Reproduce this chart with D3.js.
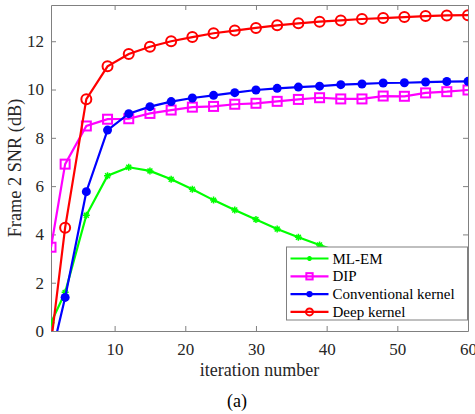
<!DOCTYPE html>
<html>
<head>
<meta charset="utf-8">
<script src="https://cdn.jsdelivr.net/npm/d3@7"></script>
<style>
  body { margin: 0; background: #fff; }
  svg text { font-family: "Liberation Serif", "Times New Roman", "DejaVu Serif", serif !important; }
</style>
</head>
<body>
<script>
const iterations = [1, 3, 6, 9, 12, 15, 18, 21, 24, 27, 30, 33, 36, 39, 42, 45, 48, 51, 54, 57, 60];

const mlem = [0.34, 1.6, 4.79, 6.43, 6.78, 6.63, 6.28, 5.87, 5.42, 5.01, 4.62, 4.22, 3.88, 3.56,
  3.26, 2.98, 2.72, 2.48, 2.27, 2.09, 1.93];
const dip = [3.47, 6.91, 8.49, 8.77, 8.79, 9.01, 9.15, 9.27, 9.3, 9.39, 9.43, 9.51, 9.59, 9.66,
  9.61, 9.61, 9.73, 9.72, 9.86, 9.91, 9.98];
const convKernel = [-1.1, 1.39, 5.77, 8.32, 9.0, 9.29, 9.5, 9.65, 9.76, 9.87, 9.98, 10.05, 10.1,
  10.14, 10.2, 10.23, 10.27, 10.28, 10.31, 10.33, 10.34];
const deepKernel = [-0.5, 4.28, 9.6, 10.96, 11.47, 11.77, 12.0, 12.17, 12.33, 12.44, 12.55, 12.66,
  12.74, 12.81, 12.86, 12.92, 12.96, 13.0, 13.04, 13.07, 13.08];

const xTicks = [10, 20, 30, 40, 50, 60];
const yTicks = [0, 2, 4, 6, 8, 10, 12];

const series = [
  { name: "ML-EM", values: mlem, color: "#00ff00", marker: "star" },
  { name: "DIP", values: dip, color: "#ff00ff", marker: "square" },
  { name: "Conventional kernel", values: convKernel, color: "#0000ff", marker: "dot" },
  { name: "Deep kernel", values: deepKernel, color: "#ff0000", marker: "circle" },
];

const width = 475, height = 414;
const margin = { top: 5, right: 7, bottom: 83, left: 51 };
const serif = '"Liberation Serif", "Times New Roman", "DejaVu Serif", serif';

const svg = d3.select("body").append("svg")
  .attr("width", width)
  .attr("height", height)
  .attr("font-family", serif);

const x = d3.scaleLinear().domain([1, 60]).range([margin.left, width - margin.right]);
const y = d3.scaleLinear().domain([0, 13.5]).range([height - margin.bottom, margin.top]);

svg.append("clipPath").attr("id", "plot")
  .append("rect")
  .attr("x", margin.left).attr("y", margin.top)
  .attr("width", x.range()[1] - margin.left)
  .attr("height", y.range()[0] - margin.top);

// axes, ticks pointing inward, box all round
const axisColor = "#808080";
const tickLen = 5;

function styleAxis(g) {
  g.attr("font-family", serif);
  g.selectAll("path").attr("stroke", axisColor);
  g.selectAll("line").attr("stroke", axisColor);
  g.selectAll("text").attr("fill", "#262626").attr("font-size", 17);
}

svg.append("g")
  .attr("transform", `translate(0,${y(0)})`)
  .call(d3.axisBottom(x).tickValues(xTicks).tickSize(-tickLen).tickSizeOuter(0).tickPadding(12))
  .call(styleAxis);

svg.append("g")
  .attr("transform", `translate(0,${margin.top})`)
  .call(d3.axisTop(x).tickValues(xTicks).tickSize(-tickLen).tickSizeOuter(0).tickFormat(""))
  .call(styleAxis);

svg.append("g")
  .attr("transform", `translate(${margin.left},0)`)
  .call(d3.axisLeft(y).tickValues(yTicks).tickSize(-tickLen).tickSizeOuter(0).tickPadding(7))
  .call(styleAxis);

svg.append("g")
  .attr("transform", `translate(${x(60)},0)`)
  .call(d3.axisRight(y).tickValues(yTicks).tickSize(-tickLen).tickSizeOuter(0).tickFormat(""))
  .call(styleAxis);

svg.selectAll(".domain").attr("stroke-width", 1);

// axis labels
svg.append("text")
  .attr("x", (x(1) + x(60)) / 2)
  .attr("y", 376)
  .attr("text-anchor", "middle")
  .attr("font-size", 18)
  .attr("fill", "#262626")
  .text("iteration number");

svg.append("text")
  .attr("transform", `translate(21,${(y(0) + y(13.5)) / 2}) rotate(-90)`)
  .attr("text-anchor", "middle")
  .attr("font-size", 18.3)
  .attr("fill", "#262626")
  .text("Frame 2 SNR (dB)");

svg.append("text")
  .attr("x", 237)
  .attr("y", 407)
  .attr("text-anchor", "middle")
  .attr("font-size", 18)
  .attr("fill", "#000")
  .text("(a)");

// markers
function drawMarker(g, type, color, s) {
  if (type === "star") {
    const r = 3.5 * s;
    g.append("path")
      .attr("d", `M${-r},0H${r}M0,${-r}V${r}M${-r * 0.7},${-r * 0.7}L${r * 0.7},${r * 0.7}M${-r * 0.7},${r * 0.7}L${r * 0.7},${-r * 0.7}`)
      .attr("stroke", color).attr("stroke-width", 1.5).attr("fill", "none");
  } else if (type === "square") {
    const h = 4.5 * s;
    g.append("rect")
      .attr("x", -h).attr("y", -h).attr("width", 2 * h).attr("height", 2 * h)
      .attr("stroke", color).attr("stroke-width", 2).attr("fill", "none");
  } else if (type === "dot") {
    g.append("circle").attr("r", 4.5 * s).attr("fill", color);
  } else {
    g.append("circle").attr("r", 5 * s)
      .attr("stroke", color).attr("stroke-width", 2).attr("fill", "none");
  }
}

const line = d3.line()
  .x((d, i) => x(iterations[i]))
  .y(d => y(d));

const plot = svg.append("g").attr("clip-path", "url(#plot)");

series.forEach(s => {
  plot.append("path")
    .datum(s.values)
    .attr("d", line)
    .attr("fill", "none")
    .attr("stroke", s.color)
    .attr("stroke-width", 2.2);
  s.values.forEach((v, i) => {
    const g = plot.append("g").attr("transform", `translate(${x(iterations[i])},${y(v)})`);
    drawMarker(g, s.marker, s.color, 1);
  });
});

// legend
const lx = 286.5, ly = 247, lw = 181, lh = 73;
const legend = svg.append("g");
legend.append("rect")
  .attr("x", lx).attr("y", ly).attr("width", lw).attr("height", lh)
  .attr("fill", "#fff").attr("stroke", axisColor).attr("stroke-width", 1);

series.forEach((s, i) => {
  const cy = ly + 11.5 + i * 17.8;
  legend.append("line")
    .attr("x1", lx + 4).attr("x2", lx + 42)
    .attr("y1", cy).attr("y2", cy)
    .attr("stroke", s.color).attr("stroke-width", 2.2);
  const g = legend.append("g").attr("transform", `translate(${lx + 23},${cy})`);
  drawMarker(g, s.marker, s.color, 0.7);
  legend.append("text")
    .attr("x", lx + 46)
    .attr("y", cy + 5)
    .attr("font-size", 15)
    .attr("fill", "#000")
    .text(s.name);
});
</script>
</body>
</html>
